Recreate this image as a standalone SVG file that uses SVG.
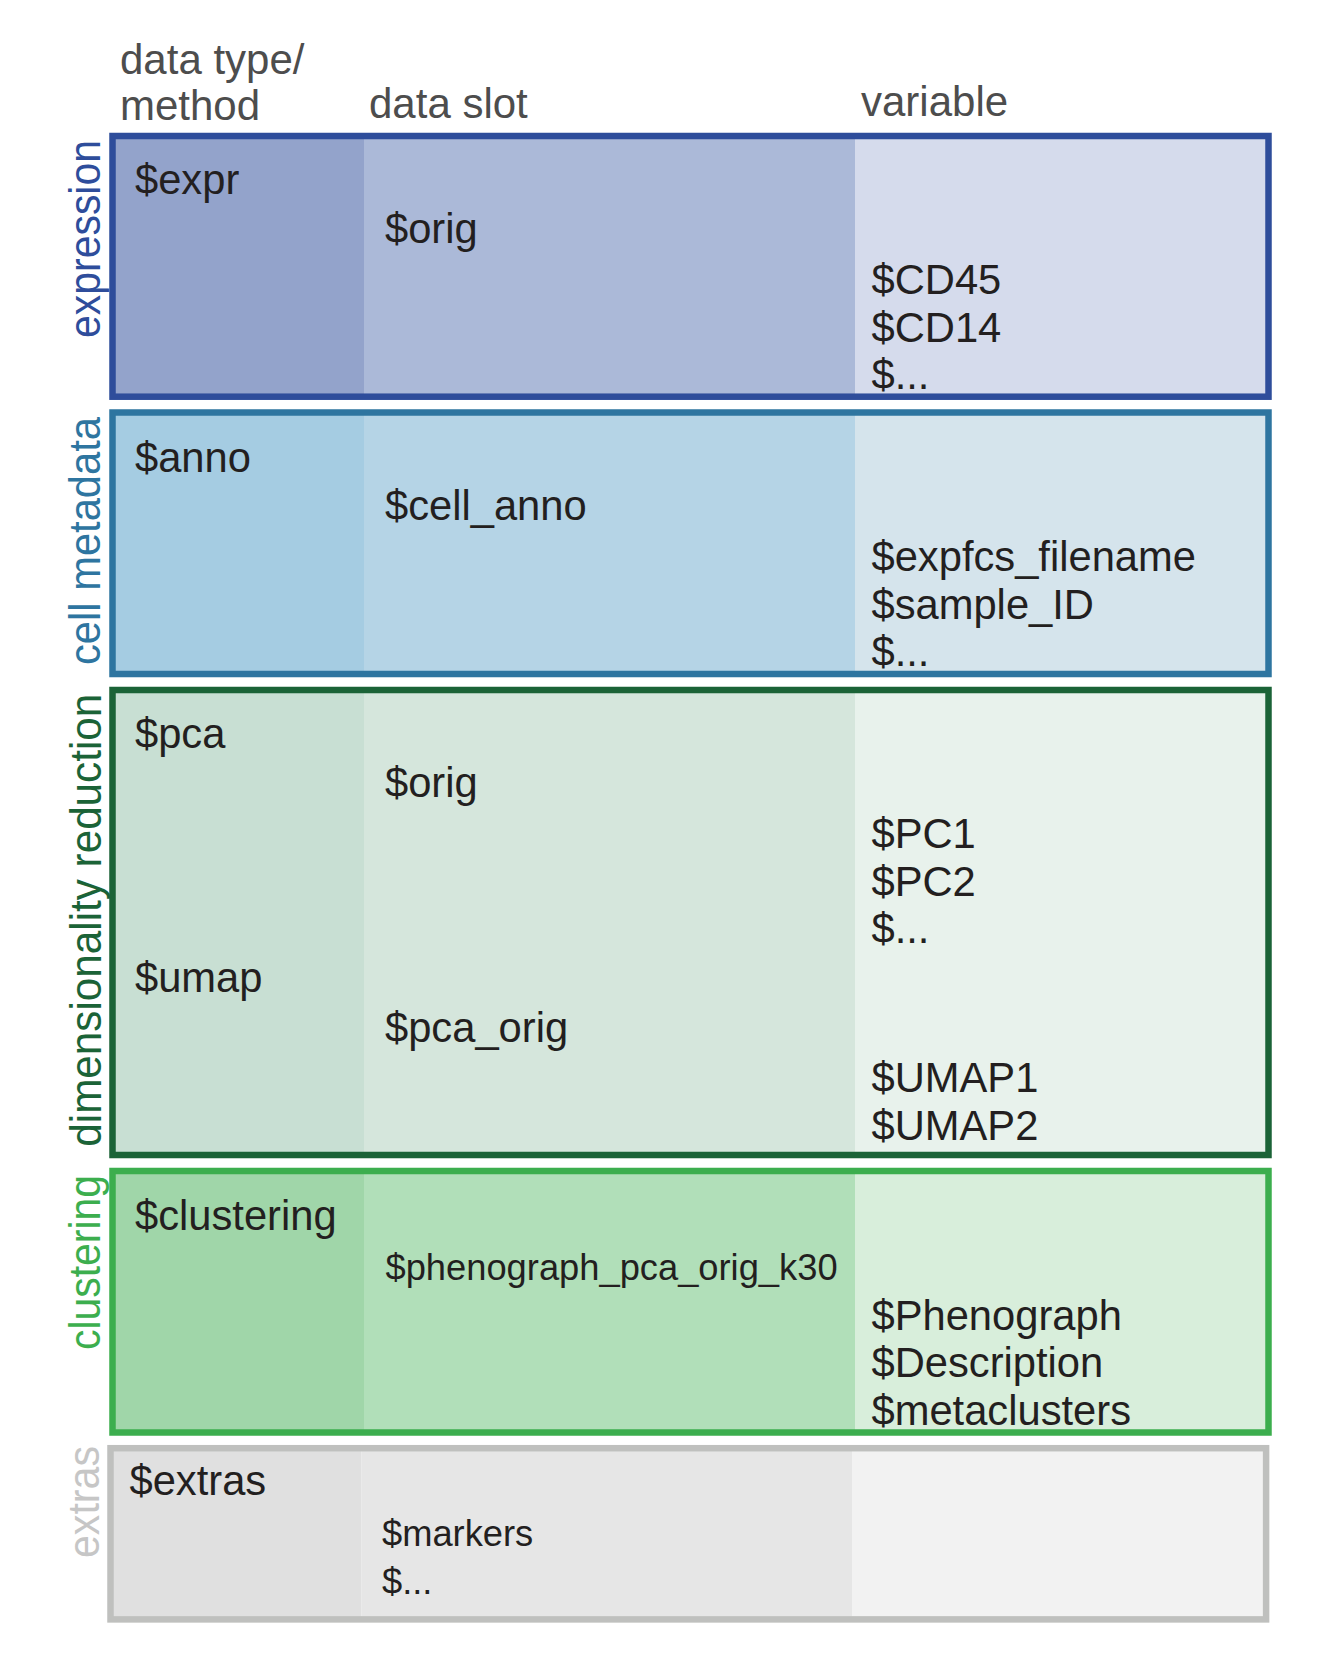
<svg xmlns="http://www.w3.org/2000/svg" width="1341" height="1666" viewBox="0 0 1341 1666">
<style>
  text { font-family: "Liberation Sans", Arial, sans-serif; }
  .hdr { font-size: 42px; fill: #4d4d4d; }
  .t { font-size: 41.7px; fill: #231f20; }
  .ts { font-size: 36.3px; fill: #231f20; }
  .lbl { font-size: 44px; }
  .frame { fill: none; stroke-width: 6.5; }
</style>
<rect x="0" y="0" width="1341" height="1666" fill="#ffffff"/>

<g id="headers">
  <text class="hdr" x="120" y="74">data type/</text>
  <text class="hdr" x="120" y="119.5">method</text>
  <text class="hdr" x="369" y="117.5">data slot</text>
  <text class="hdr" x="861" y="115.5">variable</text>
</g>

<g id="expression">
  <rect x="112.5" y="136" width="251.5" height="261" fill="#93a3cb"/>
  <rect x="364" y="136" width="491" height="261" fill="#abb9d8"/>
  <rect x="855" y="136" width="413.5" height="261" fill="#d5dbec"/>
  <rect class="frame" x="112.5" y="136" width="1156" height="260.7" stroke="#2e4d9b"/>
  <text class="lbl" fill="#2e4d9b" transform="translate(100,338) rotate(-90)" textLength="198" lengthAdjust="spacingAndGlyphs">expression</text>
  <text class="t" x="135" y="194">$expr</text>
  <text class="t" x="385" y="243">$orig</text>
  <text class="t" x="871.5" y="294">$CD45</text>
  <text class="t" x="871.5" y="341.5">$CD14</text>
  <text class="t" x="871.5" y="389">$...</text>
</g>

<g id="cell-metadata">
  <rect x="112.5" y="412.5" width="251.5" height="261.5" fill="#a5cce2"/>
  <rect x="364" y="412.5" width="491" height="261.5" fill="#b5d4e6"/>
  <rect x="855" y="412.5" width="413.5" height="261.5" fill="#d5e4ec"/>
  <rect class="frame" x="112.5" y="412.5" width="1156" height="261.5" stroke="#2e75a0"/>
  <text class="lbl" fill="#2e75a0" transform="translate(100,665) rotate(-90)" textLength="248" lengthAdjust="spacingAndGlyphs">cell metadata</text>
  <text class="t" x="135" y="471.5">$anno</text>
  <text class="t" x="385" y="520">$cell_anno</text>
  <text class="t" x="871.5" y="571">$expfcs_filename</text>
  <text class="t" x="871.5" y="618.5">$sample_ID</text>
  <text class="t" x="871.5" y="666">$...</text>
</g>

<g id="dimensionality-reduction">
  <rect x="112.5" y="690" width="251.5" height="465" fill="#c8dfd3"/>
  <rect x="364" y="690" width="491" height="465" fill="#d5e6dc"/>
  <rect x="855" y="690" width="413.5" height="465" fill="#e8f2ec"/>
  <rect class="frame" x="112.5" y="690" width="1156" height="465" stroke="#1b6337"/>
  <text class="lbl" fill="#1b6337" transform="translate(100.5,1146.7) rotate(-90)" textLength="453" lengthAdjust="spacingAndGlyphs">dimensionality reduction</text>
  <text class="t" x="135" y="748">$pca</text>
  <text class="t" x="385" y="797">$orig</text>
  <text class="t" x="871.5" y="848">$PC1</text>
  <text class="t" x="871.5" y="895.5">$PC2</text>
  <text class="t" x="871.5" y="943">$...</text>
  <text class="t" x="135" y="992">$umap</text>
  <text class="t" x="385" y="1041.5">$pca_orig</text>
  <text class="t" x="871.5" y="1092">$UMAP1</text>
  <text class="t" x="871.5" y="1139.5">$UMAP2</text>
</g>

<g id="clustering">
  <rect x="112.5" y="1171" width="251.5" height="261.5" fill="#a0d6a9"/>
  <rect x="364" y="1171" width="491" height="261.5" fill="#b1dfb9"/>
  <rect x="855" y="1171" width="413.5" height="261.5" fill="#d8eedb"/>
  <rect class="frame" x="112.5" y="1171" width="1156" height="261.5" stroke="#3cae4e"/>
  <text class="lbl" fill="#3cae4e" transform="translate(99.5,1350) rotate(-90)" textLength="175" lengthAdjust="spacingAndGlyphs">clustering</text>
  <text class="t" x="135" y="1229.5">$clustering</text>
  <text class="ts" x="385.5" y="1279.5">$phenograph_pca_orig_k30</text>
  <text class="t" x="871.5" y="1329.5">$Phenograph</text>
  <text class="t" x="871.5" y="1377">$Description</text>
  <text class="t" x="871.5" y="1424.5">$metaclusters</text>
</g>

<g id="extras">
  <rect x="110.5" y="1448.2" width="251" height="171.2" fill="#e0e0e0"/>
  <rect x="361.5" y="1448.2" width="491" height="171.2" fill="#e6e6e6"/>
  <rect x="852.5" y="1448.2" width="413.6" height="171.2" fill="#f2f2f2"/>
  <rect class="frame" x="110.5" y="1448.2" width="1155.6" height="171.2" stroke="#bfc0be"/>
  <text class="lbl" fill="#c6c6c6" transform="translate(99,1558) rotate(-90)" textLength="112" lengthAdjust="spacingAndGlyphs">extras</text>
  <text class="t" x="129.5" y="1495">$extras</text>
  <text class="ts" x="382" y="1545.5">$markers</text>
  <text class="ts" x="382" y="1594">$...</text>
</g>
</svg>
